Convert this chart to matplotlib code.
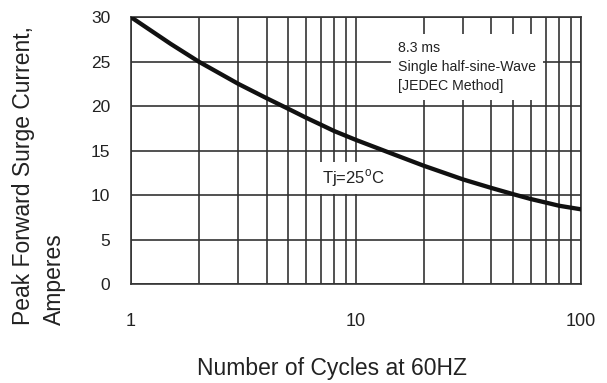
import matplotlib
matplotlib.use("Agg")
import matplotlib.pyplot as plt
from matplotlib.ticker import FixedLocator, NullFormatter

plt.rcParams['font.family'] = ['Liberation Sans', 'DejaVu Sans']

# curve
cycles = [1, 1.5, 2, 3, 4, 5, 6, 7, 8, 10, 15, 20, 30, 40, 50, 60, 70, 80, 100]
current = [30, 27.0, 25.0, 22.5, 20.9, 19.7, 18.7, 17.9, 17.2, 16.2, 14.5, 13.3,
           11.75, 10.8, 10.1, 9.55, 9.15, 8.8, 8.4]

y_ticks = [0, 5, 10, 15, 20, 25, 30]
x_ticks = [1, 10, 100]
x_minor = [2, 3, 4, 5, 6, 7, 8, 9, 20, 30, 40, 50, 60, 70, 80, 90]

line_col = '#333333'
text_col = '#222222'

fig = plt.figure(figsize=(6.07, 3.83), dpi=100)
ax = fig.add_axes([0.216, 0.2585, 0.741, 0.6965])

ax.set_xscale('log')
ax.set_xlim(1, 100)
ax.set_ylim(0, 30)

ax.xaxis.set_major_locator(FixedLocator(x_ticks))
ax.xaxis.set_minor_locator(FixedLocator(x_minor))
ax.xaxis.set_minor_formatter(NullFormatter())
ax.set_xticks(x_ticks)
ax.set_xticklabels([str(t) for t in x_ticks])
ax.set_yticks(y_ticks)

ax.grid(True, which='both', color=line_col, linewidth=1.2)
ax.set_axisbelow(True)
for s in ax.spines.values():
    s.set_color(line_col)
    s.set_linewidth(1.2)

ax.tick_params(which='both', length=0, colors=text_col)
ax.tick_params(axis='x', labelsize=13, pad=21)
ax.tick_params(axis='y', labelsize=12.5, pad=15)

ax.plot(cycles, current, color='#111111', linewidth=3.1, zorder=3,
        solid_joinstyle='round')

ax.text(15.4, 24.4, '8.3 ms\nSingle half-sine-Wave\n[JEDEC Method]',
        fontsize=10.2, color=text_col, va='center', ha='left', linespacing=1.42,
        bbox=dict(facecolor='white', edgecolor='none', pad=5), zorder=4)
ax.text(9.7, 11.35, 'Tj=25$^{\\mathregular{o}}$C', fontsize=12, color=text_col,
        ha='center', va='baseline',
        bbox=dict(facecolor='white', edgecolor='none', pad=4), zorder=4)

fig.text(0.547, 0.021, 'Number of Cycles at 60HZ', fontsize=16.5, color=text_col,
         ha='center', va='baseline')
fig.text(0.020, 0.151, 'Peak Forward Surge Current,\nAmperes', rotation=90, fontsize=16.5,
         color=text_col, ha='left', va='bottom', multialignment='left', linespacing=1.45)

fig.savefig('out.png', dpi=100)
